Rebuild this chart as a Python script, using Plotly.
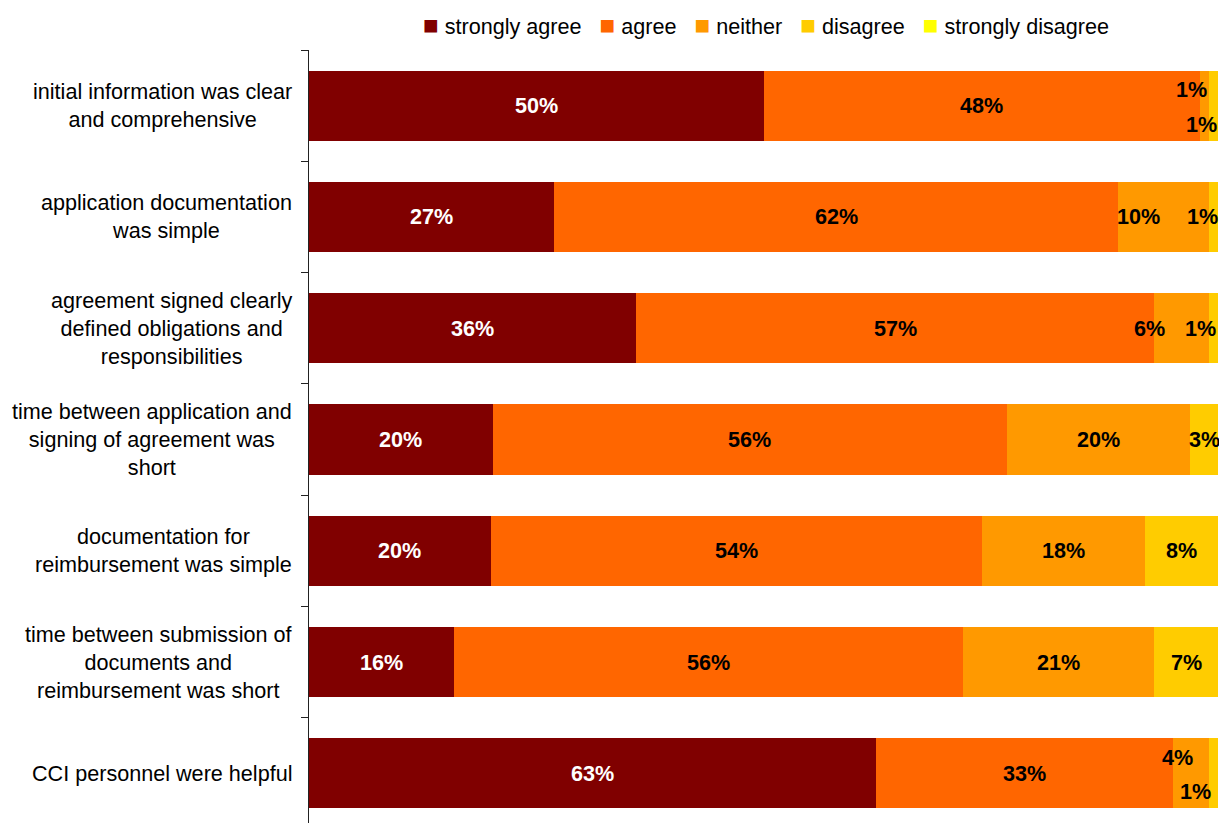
import plotly.graph_objects as go

# Survey statements, top to bottom
statements = [
    "initial information was clear<br>and comprehensive",
    "application documentation<br>was simple",
    "agreement signed clearly<br>defined obligations and<br>responsibilities",
    "time between application and<br>signing of agreement was<br>short",
    "documentation for<br>reimbursement was simple",
    "time between submission of<br>documents and<br>reimbursement was short",
    "CCI personnel were helpful",
]

series_names = ["strongly agree", "agree", "neither", "disagree", "strongly disagree"]

strongly_agree = [50, 27, 36, 20, 20, 16, 63]
agree = [48, 62, 57, 56, 54, 56, 33]
neither = [1, 10, 6, 20, 18, 21, 4]
disagree = [1, 1, 1, 3, 8, 7, 1]
strongly_disagree = [0, 0, 0, 0, 0, 0, 0]

series_values = [strongly_agree, agree, neither, disagree, strongly_disagree]
series_colors = ["#800000", "#FF6600", "#FF9900", "#FFCC00", "#FFFF00"]
label_colors = ["white", "black", "black", "black", "black"]

# pixel nudges for labels on narrow segments: (row, series) -> (dx, dy)
label_nudges = {
    (0, 2): (-13, 16), (0, 3): (-12, -19),
    (1, 2): (-25, 0), (1, 3): (-11, 0),
    (2, 2): (-32, 0), (2, 3): (-13, 0),
    (6, 2): (-14, 16), (6, 3): (-18, -18),
}

FONT = "Liberation Sans, Arial, sans-serif"
FS = 21.6
WIDTH, HEIGHT = 1219, 823
M_TOP = 50

fig = go.Figure()
for name, vals, color in zip(series_names, series_values, series_colors):
    fig.add_trace(go.Bar(
        name=name, y=statements, x=vals, orientation="h",
        marker=dict(color=color, line=dict(width=0)),
        hoverinfo="skip",
    ))

annotations = []
# value labels, centred on each (normalised) segment
for r, stmt in enumerate(statements):
    total = sum(s[r] for s in series_values)
    cum = 0.0
    for si, vals in enumerate(series_values):
        v = vals[r]
        if v > 0:
            centre = (cum + v / 2) / total * 100
            dx, dy = label_nudges.get((r, si), (0, 0))
            annotations.append(dict(
                x=centre, y=stmt, xref="x", yref="y",
                text=f"<b>{v}%</b>", showarrow=False,
                xshift=dx, yshift=dy,
                font=dict(family=FONT, size=FS, color=label_colors[si]),
            ))
        cum += v

# category labels, centre aligned to the left of the axis
for stmt in statements:
    annotations.append(dict(
        x=0, y=stmt, xref="paper", yref="y",
        text=stmt, showarrow=False, align="center",
        xanchor="right", xshift=-15,
        font=dict(family=FONT, size=FS, color="black"),
    ))

# compact legend row across the top
legend_items = [
    f'<span style="color:{c};font-size:26px">■</span>&nbsp;{n}'
    for n, c in zip(series_names, series_colors)
]
plot_h = HEIGHT - M_TOP
annotations.append(dict(
    x=0.5028, xref="paper", xanchor="center",
    y=1 + 25 / plot_h, yref="paper", yanchor="middle",
    text="&nbsp;&nbsp;&nbsp;".join(legend_items), showarrow=False,
    font=dict(family=FONT, size=FS, color="black"),
))

fig.update_layout(
    width=WIDTH, height=HEIGHT,
    margin=dict(l=309, r=1, t=M_TOP, b=0),
    barmode="stack", barnorm="percent", bargap=0.37,
    plot_bgcolor="white", paper_bgcolor="white",
    font=dict(family=FONT, size=FS, color="black"),
    showlegend=False,
    xaxis=dict(range=[0, 100], visible=False, fixedrange=True),
    yaxis=dict(
        type="category", range=[6.446, -0.5],
        showticklabels=False, showgrid=False, zeroline=False,
        showline=True, linecolor="#222222", linewidth=1,
        ticks="outside", tickson="boundaries", ticklen=7, tickcolor="#222222",
    ),
    annotations=annotations,
)

fig.write_html("out.html")
